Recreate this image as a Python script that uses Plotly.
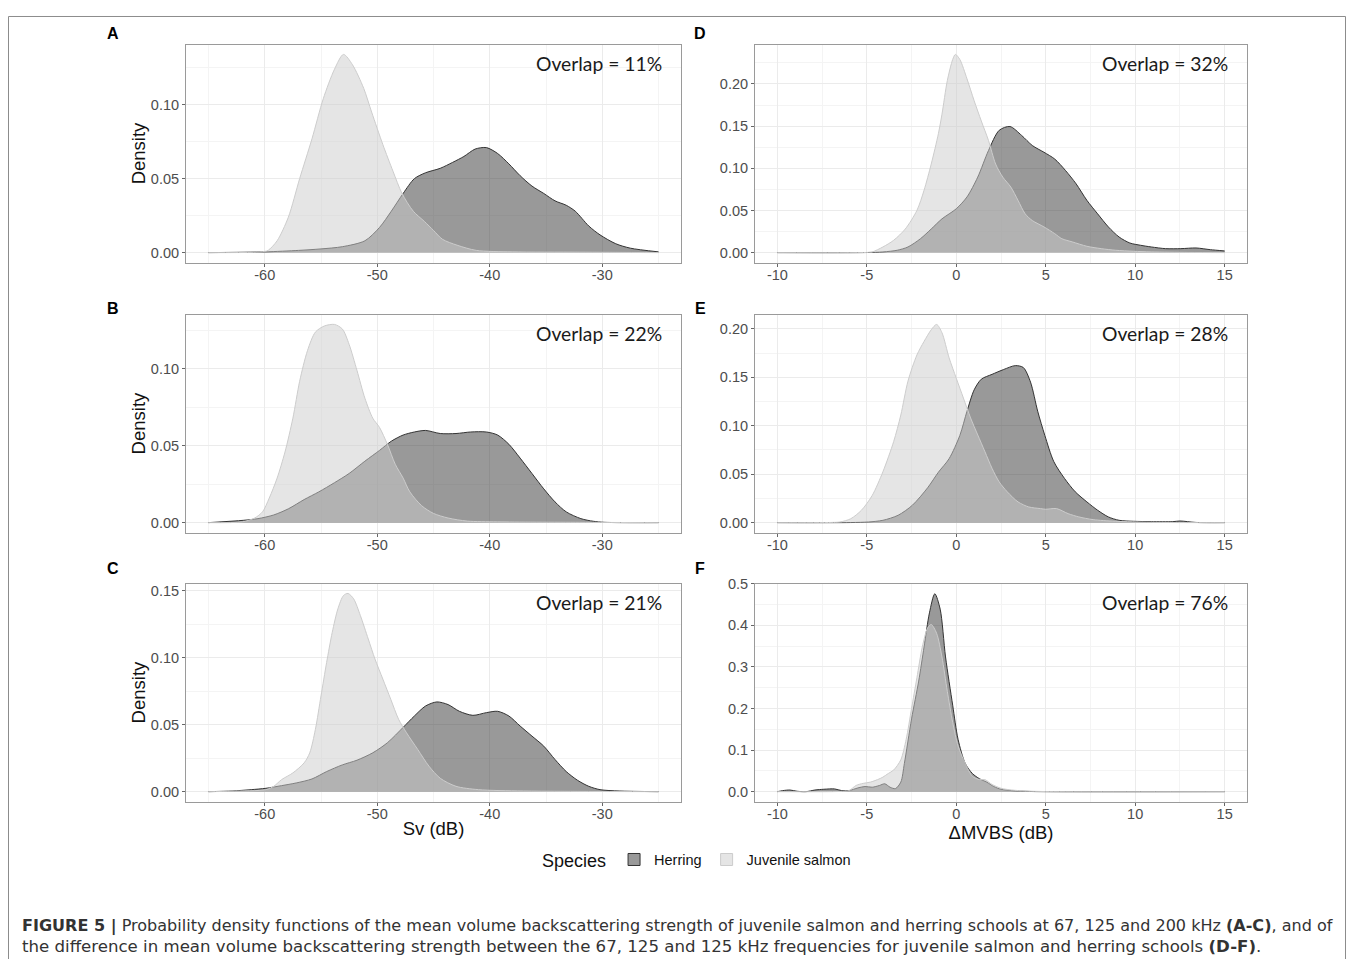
import plotly.graph_objects as go

# ---------------- data ----------------
SPECIES = ["Herring", "Juvenile salmon"]
PANEL_LETTERS = ["A", "D", "B", "E", "C", "F"]
OVERLAPS = ["11%", "32%", "22%", "28%", "21%", "76%"]
X_TITLES = ["", "", "", "", "Sv (dB)", "ΔMVBS (dB)"]

# Panel A (Sv, 67 kHz)
A_SAL_X = [-65, -61, -60, -59.7, -58.9, -57.9, -56.9, -55.8, -54.8, -53.8, -53, -52.2, -51.2, -50.5, -49.5,
           -48.6, -47.8, -46.8, -45.8, -45, -44.2, -42.9, -41.2, -38, -32, -25]
A_SAL_Y = [0, 0.0002, 0.0008, 0.0015, 0.008, 0.024, 0.05, 0.077, 0.104, 0.124, 0.134, 0.127, 0.111, 0.095, 0.073,
           0.055, 0.04, 0.028, 0.021, 0.015, 0.009, 0.005, 0.0015, 0.0005, 0.0003, 0]
A_HER_X = [-65, -60, -57, -55, -53.1, -51.1, -49.8, -48.75, -47.7, -46.7, -45.7, -44.4, -43.3, -42.3, -41.3, -40.3,
           -39.3, -38.3, -37.3, -36.25, -35.2, -34.2, -33.2, -32.4, -31.2, -30.2, -28.8, -27.5, -25]
A_HER_Y = [0, 0.0005, 0.0015, 0.0025, 0.004, 0.008, 0.017, 0.028, 0.04, 0.05, 0.054, 0.057, 0.061, 0.065, 0.07, 0.071,
           0.067, 0.06, 0.052, 0.045, 0.04, 0.035, 0.032, 0.028, 0.018, 0.012, 0.006, 0.003, 0.0005]

# Panel B (Sv, 125 kHz)
B_SAL_X = [-65, -62, -60.9, -60.2, -59.6, -58.9, -58.2, -57.5, -56.9, -56.2, -55.5, -54.7, -53.8, -53.1, -52.5, -51.8,
           -51.1, -50.4, -49.8, -49.1, -48.4, -47.7, -47.1, -46.05, -45, -43.7, -42, -39.3, -32, -25]
B_SAL_Y = [0, 0.0005, 0.003, 0.007, 0.016, 0.029, 0.046, 0.068, 0.092, 0.112, 0.124, 0.128, 0.129, 0.126, 0.116, 0.099,
           0.081, 0.068, 0.062, 0.051, 0.038, 0.029, 0.02, 0.011, 0.006, 0.003, 0.001, 0.0005, 0.0002, 0]
B_HER_X = [-65, -61.9, -60.6, -59.2, -57.9, -56.5, -55.2, -53.8, -52.5, -51.1, -49.8, -48.75, -47.7, -46.7, -45.7,
           -44.4, -43, -41.7, -40.3, -39.3, -38.3, -37.3, -36.25, -35.2, -34.2, -33.2, -31.9, -30.8, -29.8, -25]
B_HER_Y = [0, 0.0015, 0.0026, 0.005, 0.009, 0.015, 0.02, 0.026, 0.032, 0.04, 0.047, 0.053, 0.057, 0.059, 0.06,
           0.058, 0.058, 0.059, 0.059, 0.057, 0.051, 0.042, 0.032, 0.022, 0.0135, 0.007, 0.0026, 0.0009, 0.0002, 0]

# Panel C (Sv, 200 kHz)
C_SAL_X = [-65, -63, -59.9, -59.2, -58.5, -57.5, -56.5, -56, -55.5, -55, -54.5, -54, -53.5, -53, -52.6, -52.1, -51.5,
           -50.8, -50.2, -49.5, -48.8, -48.1, -47.4, -46.4, -45.4, -44.4, -43, -41, -37, -25]
C_SAL_Y = [0, 0.0003, 0.0015, 0.004, 0.009, 0.014, 0.0215, 0.029, 0.0465, 0.0715, 0.0965, 0.119, 0.1365, 0.1465,
           0.148, 0.144, 0.1315, 0.114, 0.099, 0.084, 0.069, 0.054, 0.044, 0.0315, 0.019, 0.01, 0.004, 0.0015, 0.0005, 0]
C_HER_X = [-65, -62.9, -61.2, -59.9, -58.5, -57.2, -55.8, -54.5, -53.1, -51.8, -50.4, -49.1, -47.7, -46.7, -45.7,
           -44.7, -43.7, -42.7, -41.5, -40.3, -39.3, -38.3, -37.3, -36.25, -35.2, -34.2, -33.2, -32.2, -31.2, -30.2,
           -28.5, -25]
C_HER_Y = [0, 0.0005, 0.0015, 0.0025, 0.0045, 0.0065, 0.0095, 0.015, 0.02, 0.0235, 0.029, 0.0365, 0.048, 0.0565,
           0.064, 0.067, 0.065, 0.06, 0.057, 0.059, 0.06, 0.0565, 0.049, 0.0415, 0.034, 0.024, 0.015, 0.0085, 0.004,
           0.0015, 0.0005, 0]

# Panel D (ΔMVBS)
D_SAL_X = [-10, -5, -4.7, -4.1, -3.5, -2.85, -2.2, -1.8, -1.4, -1.0, -0.8, -0.5, -0.2, -0.05, 0.2, 0.6, 1.0, 1.4,
           1.8, 2.2, 2.6, 3.05, 3.45, 3.85, 4.25, 4.9, 5.5, 5.9, 6.5, 7.3, 8.1, 8.9, 9.9, 10.9, 13, 15]
D_SAL_Y = [0, 0.0002, 0.0008, 0.0067, 0.0146, 0.028, 0.05, 0.074, 0.105, 0.141, 0.164, 0.204, 0.229, 0.235, 0.229,
           0.206, 0.18, 0.156, 0.133, 0.105, 0.0895, 0.0777, 0.062, 0.046, 0.038, 0.0305, 0.0225, 0.0165, 0.0126,
           0.0075, 0.0047, 0.0028, 0.0016, 0.0008, 0.0002, 0]
D_HER_X = [-10, -5, -4.1, -3.3, -2.7, -2.0, -1.4, -0.8, 0, 0.6, 1.2, 1.8, 2.4, 3.0, 3.65, 4.25, 4.9, 5.5, 6.1, 6.7,
           7.3, 7.9, 8.5, 9.1, 9.7, 10.3, 10.9, 11.7, 12.55, 13.4, 14.2, 15]
D_HER_Y = [0, 0.0001, 0.0008, 0.0028, 0.0067, 0.0165, 0.028, 0.04, 0.052, 0.066, 0.0895, 0.121, 0.145, 0.1495, 0.139,
           0.127, 0.119, 0.111, 0.0975, 0.0815, 0.062, 0.046, 0.0305, 0.0185, 0.0114, 0.0087, 0.0067, 0.0047, 0.0047,
           0.0055, 0.0035, 0.002]

# Panel E (ΔMVBS)
E_SAL_X = [-10, -7, -6.5, -5.9, -5.3, -4.7, -4.1, -3.5, -3.1, -2.7, -2.2, -1.8, -1.4, -1.1, -0.8, -0.4, 0, 0.4, 0.8,
           1.2, 1.6, 2.0, 2.4, 2.85, 3.45, 4.05, 4.7, 5.0, 5.6, 6.25, 6.85, 7.65, 8.9, 10.9, 15]
E_SAL_Y = [0, 0.0002, 0.0007, 0.004, 0.0128, 0.028, 0.0525, 0.0836, 0.111, 0.146, 0.173, 0.187, 0.199, 0.2045, 0.196,
           0.17, 0.149, 0.1285, 0.108, 0.0905, 0.0733, 0.056, 0.042, 0.0318, 0.0214, 0.0162, 0.0145, 0.0138, 0.0145,
           0.0093, 0.0059, 0.0031, 0.0014, 0.0003, 0]
E_HER_X = [-10, -5.9, -4.9, -4.1, -3.25, -2.45, -1.6, -1.0, -0.4, 0.2, 0.6, 1.0, 1.4, 2.0, 2.65, 3.3, 3.75, 4.15,
           4.55, 4.95, 5.45, 6.05, 6.65, 7.3, 7.9, 8.5, 9.1, 9.9, 10.9, 12.1, 12.5, 13.4, 15]
E_HER_Y = [0, 0.0001, 0.0007, 0.0024, 0.0076, 0.018, 0.036, 0.052, 0.066, 0.09, 0.115, 0.137, 0.148, 0.153, 0.158,
           0.162, 0.16, 0.145, 0.115, 0.09, 0.063, 0.0456, 0.0318, 0.0214, 0.0128, 0.0059, 0.0024, 0.0014, 0.001,
           0.001, 0.0017, 0.0002, 0]

# Panel F (ΔMVBS)
F_SAL_X = [-10, -6.5, -6.0, -5.6, -5.2, -4.8, -4.4, -4.1, -3.8, -3.5, -3.1, -2.8, -2.5, -2.2, -1.9, -1.6, -1.4, -1.1,
           -0.8, -0.5, -0.2, 0.1, 0.5, 0.9, 1.3, 1.6, 2.0, 2.5, 3.1, 3.9, 5, 15]
F_SAL_Y = [0, 0.0005, 0.0025, 0.015, 0.02, 0.023, 0.029, 0.035, 0.0437, 0.052, 0.0766, 0.126, 0.2, 0.274, 0.348,
           0.394, 0.402, 0.381, 0.324, 0.241, 0.167, 0.11, 0.068, 0.037, 0.029, 0.029, 0.0173, 0.0082, 0.004, 0.0016,
           0.0003, 0]
F_HER_X = [-10, -9.7, -9.3, -8.9, -8.4, -7.9, -7.4, -6.8, -6.4, -6.0, -5.5, -5.1, -4.7, -4.3, -4.0, -3.7, -3.4, -3.1,
           -2.9, -2.5, -2.1, -1.8, -1.5, -1.2, -0.9, -0.6, -0.2, 0.1, 0.5, 0.9, 1.3, 1.7, 2.1, 2.5, 3.1, 4.1, 5, 15]
F_HER_Y = [0, 0.0025, 0.004, 0.001, 0, 0.004, 0.0058, 0.0066, 0.0025, 0.0025, 0.009, 0.0124, 0.0107, 0.0148, 0.019,
           0.0107, 0.0074, 0.023, 0.068, 0.175, 0.266, 0.348, 0.43, 0.476, 0.439, 0.324, 0.208, 0.126, 0.068, 0.0437,
           0.031, 0.023, 0.0124, 0.0058, 0.0025, 0.0005, 0, 0]

SV_TICKS = [-60, -50, -40, -30]
DMVBS_TICKS = [-10, -5, 0, 5, 10, 15]

CAPTION_1 = ("<b>FIGURE 5 |</b> Probability density functions of the mean volume backscattering strength of juvenile "
             "salmon and herring schools at 67, 125 and 200 kHz <b>(A-C)</b>, and of")
CAPTION_2 = ("the difference in mean volume backscattering strength between the 67, 125 and 125 kHz frequencies for "
             "juvenile salmon and herring schools <b>(D-F)</b>.")

# ---------------- layout helpers ----------------
OFF_X = 8                    # page offset (horizontal)
OFF_Y, SCALE_Y = 15.5, 0.9915  # measured page offset / vertical scale of the rendered page
W, H = 1355 - OFF_X, 951
COL_X = [(186, 681), (755, 1247)]
ROW_Y = [(44, 262), (314, 532), (583, 801)]
LETTER_Y = [33, 308, 568]


def fx(px):
    return (px - OFF_X) / W


def fy(py):
    return 1 - ((py - OFF_Y) / SCALE_Y) / H


HER_FILL = "rgba(51,51,51,0.5)"
SAL_FILL = "rgba(204,204,204,0.5)"
HER_LINE = "#333333"
SAL_LINE = "#cccccc"
FONT = "Liberation Sans, Arial, sans-serif"

panels = [
    (A_HER_X, A_HER_Y, A_SAL_X, A_SAL_Y),
    (D_HER_X, D_HER_Y, D_SAL_X, D_SAL_Y),
    (B_HER_X, B_HER_Y, B_SAL_X, B_SAL_Y),
    (E_HER_X, E_HER_Y, E_SAL_X, E_SAL_Y),
    (C_HER_X, C_HER_Y, C_SAL_X, C_SAL_Y),
    (F_HER_X, F_HER_Y, F_SAL_X, F_SAL_Y),
]

fig = go.Figure()
layout = dict(
    width=W, height=H, margin=dict(l=0, r=0, t=0, b=0),
    paper_bgcolor="white", plot_bgcolor="white",
    font=dict(family=FONT, color="#4d4d4d"),
    showlegend=True,
)
annotations = []

for i, (hx, hy, sx, sy) in enumerate(panels):
    n = i + 1
    sfx = "" if n == 1 else str(n)
    row, col = i // 2, i % 2
    xa, ya = "x" + sfx, "y" + sfx
    fig.add_trace(go.Scatter(x=hx, y=hy, xaxis=xa, yaxis=ya, mode="lines", fill="tozeroy",
                             fillcolor=HER_FILL, line=dict(color=HER_LINE, width=1, shape="spline", smoothing=0.8),
                             showlegend=False, hoverinfo="skip"))
    fig.add_trace(go.Scatter(x=sx, y=sy, xaxis=xa, yaxis=ya, mode="lines", fill="tozeroy",
                             fillcolor=SAL_FILL, line=dict(color=SAL_LINE, width=1, shape="spline", smoothing=0.8),
                             showlegend=False, hoverinfo="skip"))

    ymax = max(max(hy), max(sy))
    pad = ymax * 0.05
    yr = [-pad, ymax + pad]
    is_f = (n == 6)
    if is_f:
        yr[1] = max(yr[1], 0.5005)
    if col == 0:
        xr = [-67, -23]
        xticks, xmin0, xmindt = SV_TICKS, -65, 5
    else:
        xr = [-11.25, 16.25]
        xticks, xmin0, xmindt = DMVBS_TICKS, -12.5, 2.5
    ydt = 0.1 if is_f else 0.05
    x0, x1 = COL_X[col]
    y0, y1 = ROW_Y[row]
    axis_common = dict(showline=True, linecolor="#9a9a9a", linewidth=1, mirror=True,
                       ticks="outside", ticklen=3, tickwidth=1, tickcolor="#666666",
                       showgrid=True, gridcolor="#ebebeb", gridwidth=1, zeroline=False,
                       tickfont=dict(size=14.5, color="#4d4d4d", family=FONT))
    layout["xaxis" + sfx] = dict(
        axis_common, domain=[fx(x0), fx(x1)], anchor=ya, range=xr, tickmode="array",
        tickvals=xticks, ticktext=[str(v) for v in xticks], ticklabelstandoff=-4,
        minor=dict(tickmode="linear", tick0=xmin0, dtick=xmindt, showgrid=True, gridcolor="#f4f4f4",
                   gridwidth=0.6, ticks=""),
        title=dict(text=X_TITLES[i], font=dict(size=18.5, color="#111111", family=FONT), standoff=1),
    )
    layout["yaxis" + sfx] = dict(
        axis_common, domain=[fy(y1), fy(y0)], anchor=xa, range=yr, tickmode="linear",
        tick0=0, dtick=ydt, tickformat=".1f" if is_f else ".2f",
        minor=dict(tick0=0, dtick=ydt / 2, showgrid=True, gridcolor="#f4f4f4", gridwidth=0.6, ticks=""),
        title=dict(text="Density" if col == 0 else "", font=dict(size=18.5, color="#111111", family=FONT),
                   standoff=0),
    )
    # Overlap label
    annotations.append(dict(
        text="Overlap = " + OVERLAPS[i], xref=xa + " domain", yref=ya + " domain",
        x=0.966, y=(y1 - (y0 + 19)) / (y1 - y0), xanchor="right", yanchor="middle", showarrow=False,
        font=dict(family="Lato, Open Sans, sans-serif", size=19.3, color="#1a1a1a"),
    ))
    # Panel letter
    annotations.append(dict(
        text="<b>" + PANEL_LETTERS[i] + "</b>", xref="paper", yref="paper",
        x=fx(113 if col == 0 else 700), y=fy(LETTER_Y[row]), xanchor="center", yanchor="middle",
        showarrow=False, font=dict(family=FONT, size=16, color="#000000"),
    ))

# legend entries (square swatches)
for name, fc, lc in [(SPECIES[0], HER_FILL, HER_LINE), (SPECIES[1], SAL_FILL, SAL_LINE)]:
    fig.add_trace(go.Bar(x=[None], y=[None], name=name, marker=dict(color=fc, line=dict(color=lc, width=1)),
                         showlegend=True, hoverinfo="skip"))

layout["legend"] = dict(
    orientation="h", x=fx(698), xanchor="center", y=fy(860), yanchor="middle",
    title=dict(text="Species", font=dict(size=18, color="#111111", family=FONT), side="left"),
    font=dict(size=14.5, color="#111111", family=FONT), bgcolor="rgba(0,0,0,0)", itemwidth=30,
)

for txt, ycap, size in [(CAPTION_1, 925, 16.05), (CAPTION_2, 946, 16.6)]:
    annotations.append(dict(
        text=txt, xref="paper", yref="paper", x=fx(20), y=fy(ycap), xanchor="left", yanchor="middle",
        align="left", showarrow=False,
        font=dict(family="DejaVu Sans, Verdana, sans-serif", size=size, color="#333333"),
    ))

layout["annotations"] = annotations
layout["shapes"] = [dict(type="rect", xref="paper", yref="paper", x0=fx(8.5), x1=fx(1345.5),
                         y0=-0.05, y1=1 - 0.5 / H, line=dict(color="#8c8c8c", width=1),
                         fillcolor="rgba(0,0,0,0)")]
fig.update_layout(**layout)
fig.write_html("out.html")
